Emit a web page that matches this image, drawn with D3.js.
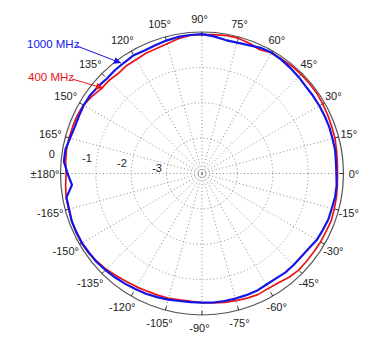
<!DOCTYPE html>
<meta charset="utf-8">
<script src="https://d3js.org/d3.v7.min.js"></script>
<style>
  body { margin: 0; background: #fff; }
  text { font-family: Arial, "Liberation Sans", sans-serif; }
</style>
<div id="my_dataviz"></div>
<script>
// angles in degrees (counter clockwise, 0 = right)
var angles = [-180, -175, -170, -165, -160, -155, -150, -145, -140, -135, -130, -125,
  -120, -115, -110, -105, -100, -95, -90, -85, -80, -75, -70, -65,
  -60, -55, -50, -45, -40, -35, -30, -25, -20, -15, -10, -5,
  0, 5, 10, 15, 20, 25, 30, 35, 40, 45, 50, 55,
  60, 65, 70, 75, 80, 85, 90, 95, 100, 105, 110, 115,
  120, 125, 130, 135, 140, 145, 150, 155, 160, 165, 170, 175];

// 1000 MHz pattern (dB)
var mhz1000 = [-0.20, -0.31, -0.11, -0.11, -0.08, -0.08, -0.08, -0.10, -0.11, -0.14, -0.17, -0.20,
  -0.23, -0.25, -0.28, -0.31, -0.34, -0.35, -0.35, -0.34, -0.34, -0.34, -0.34, -0.34,
  -0.37, -0.37, -0.34, -0.34, -0.34, -0.31, -0.25, -0.23, -0.20, -0.20, -0.18, -0.18,
  -0.20, -0.20, -0.18, -0.18, -0.17, -0.17, -0.17, -0.17, -0.17, -0.14, -0.11, -0.08,
  -0.06, -0.08, -0.14, -0.17, -0.17, -0.11, -0.06, -0.07, -0.08, -0.11, -0.14, -0.16,
  -0.14, -0.17, -0.18, -0.20, -0.17, -0.14, -0.14, -0.16, -0.17, -0.14, -0.08, -0.08];

// 400 MHz pattern (dB)
var mhz400 = [-0.16, -0.13, -0.10, -0.10, -0.08, -0.07, -0.07, -0.08, -0.13, -0.17, -0.23, -0.27,
  -0.30, -0.33, -0.34, -0.35, -0.37, -0.37, -0.35, -0.33, -0.30, -0.28, -0.25, -0.23,
  -0.25, -0.23, -0.17, -0.14, -0.14, -0.14, -0.13, -0.13, -0.11, -0.13, -0.14, -0.16,
  -0.17, -0.16, -0.14, -0.11, -0.10, -0.08, -0.06, -0.04, -0.04, -0.04, -0.04, -0.06,
  -0.06, -0.14, -0.08, -0.04, -0.04, -0.06, -0.07, -0.08, -0.13, -0.20, -0.24, -0.25,
  -0.28, -0.28, -0.31, -0.28, -0.28, -0.20, -0.13, -0.11, -0.11, -0.11, -0.11, -0.13];

var rings = [0, -1, -2, -3];
var angleTicks = d3.range(-165, 181, 15);

var cx = 202, cy = 173.5, R = 141.5;

var root = d3.select("#my_dataviz")
  .append("svg")
    .attr("width", 384)
    .attr("height", 355);

var svg = root.append("g")
    .attr("transform", "translate(" + cx + "," + cy + ")");

// radius scale: -4 dB at the centre, 0 dB on the outer circle
var r = d3.scaleLinear().domain([-4, 0]).range([0, R]);

var rad = a => a * Math.PI / 180;
var px = (a, rr) => rr * Math.cos(rad(a));
var py = (a, rr) => -rr * Math.sin(rad(a));

// dotted rings
svg.selectAll(".ring")
  .data(rings.filter(d => d < 0))
  .enter().append("circle")
    .attr("r", d => r(d))
    .attr("fill", "none")
    .attr("stroke", "#8a8a8a")
    .attr("stroke-width", 1)
    .attr("stroke-dasharray", "1,2.5");

// dotted spokes every 15 degrees
svg.selectAll(".spoke")
  .data(angleTicks)
  .enter().append("line")
    .attr("x1", 0).attr("y1", 0)
    .attr("x2", d => px(d, R))
    .attr("y2", d => py(d, R))
    .attr("stroke", "#8a8a8a")
    .attr("stroke-width", 1)
    .attr("stroke-dasharray", "1,2.5");

// outer circle
svg.append("circle")
  .attr("r", R)
  .attr("fill", "none")
  .attr("stroke", "#555")
  .attr("stroke-width", 1.2);

// ticks on the outer circle
svg.selectAll(".tick")
  .data(angleTicks)
  .enter().append("line")
    .attr("x1", d => px(d, R - 4))
    .attr("y1", d => py(d, R - 4))
    .attr("x2", d => px(d, R))
    .attr("y2", d => py(d, R))
    .attr("stroke", "#333")
    .attr("stroke-width", 1);

// angle labels
svg.selectAll(".alabel")
  .data(angleTicks)
  .enter().append("text")
    .attr("x", d => px(d, R + 13) - 2.5)
    .attr("y", d => py(d, R + 13))
    .attr("text-anchor", "middle")
    .attr("dominant-baseline", "central")
    .attr("font-size", "11px")
    .attr("fill", "#222")
    .text(d => (d === 180 ? "\u00b1180" : d) + "\u00b0");

// radial labels
svg.selectAll(".rlabel")
  .data(rings)
  .enter().append("text")
    .attr("x", d => px(172.5, r(d) + 10))
    .attr("y", d => py(172.5, r(d) + 10))
    .attr("text-anchor", "middle")
    .attr("dominant-baseline", "central")
    .attr("font-size", "11px")
    .attr("fill", "#222")
    .text(d => d);

// pattern curves
var line = d3.lineRadial()
  .angle(d => rad(90 - d[0]))
  .radius(d => r(d[1]))
  .curve(d3.curveLinearClosed);

var series = [
  {name: "400 MHz", color: "#e8141a", width: 1.7, values: mhz400},
  {name: "1000 MHz", color: "#1414e6", width: 2.2, values: mhz1000}
];

svg.selectAll(".curve")
  .data(series)
  .enter().append("path")
    .attr("d", s => line(angles.map((a, i) => [a, s.values[i]])))
    .attr("fill", "none")
    .attr("stroke", s => s.color)
    .attr("stroke-width", s => s.width)
    .attr("stroke-linejoin", "round");

// legend labels with arrows
var defs = root.append("defs");
series.forEach(function(s, i) {
  defs.append("marker")
    .attr("id", "arrow" + i)
    .attr("viewBox", "0 0 10 10")
    .attr("refX", 10).attr("refY", 5)
    .attr("markerWidth", 9).attr("markerHeight", 7)
    .attr("markerUnits", "userSpaceOnUse")
    .attr("orient", "auto")
    .append("path")
      .attr("d", "M0,0L10,5L0,10z")
      .attr("fill", s.color);
});

var notes = [
  {s: 1, text: [27, 48], from: [77, 46], to: [121, 63]},
  {s: 0, text: [28, 81], from: [72, 79], to: [103, 88]}
];
notes.forEach(function(n) {
  root.append("text")
    .attr("x", n.text[0]).attr("y", n.text[1])
    .attr("font-size", "11.5px")
    .attr("fill", series[n.s].color)
    .text(series[n.s].name);
  root.append("line")
    .attr("x1", n.from[0]).attr("y1", n.from[1])
    .attr("x2", n.to[0]).attr("y2", n.to[1])
    .attr("stroke", series[n.s].color)
    .attr("stroke-width", 1)
    .attr("marker-end", "url(#arrow" + n.s + ")");
});
</script>
